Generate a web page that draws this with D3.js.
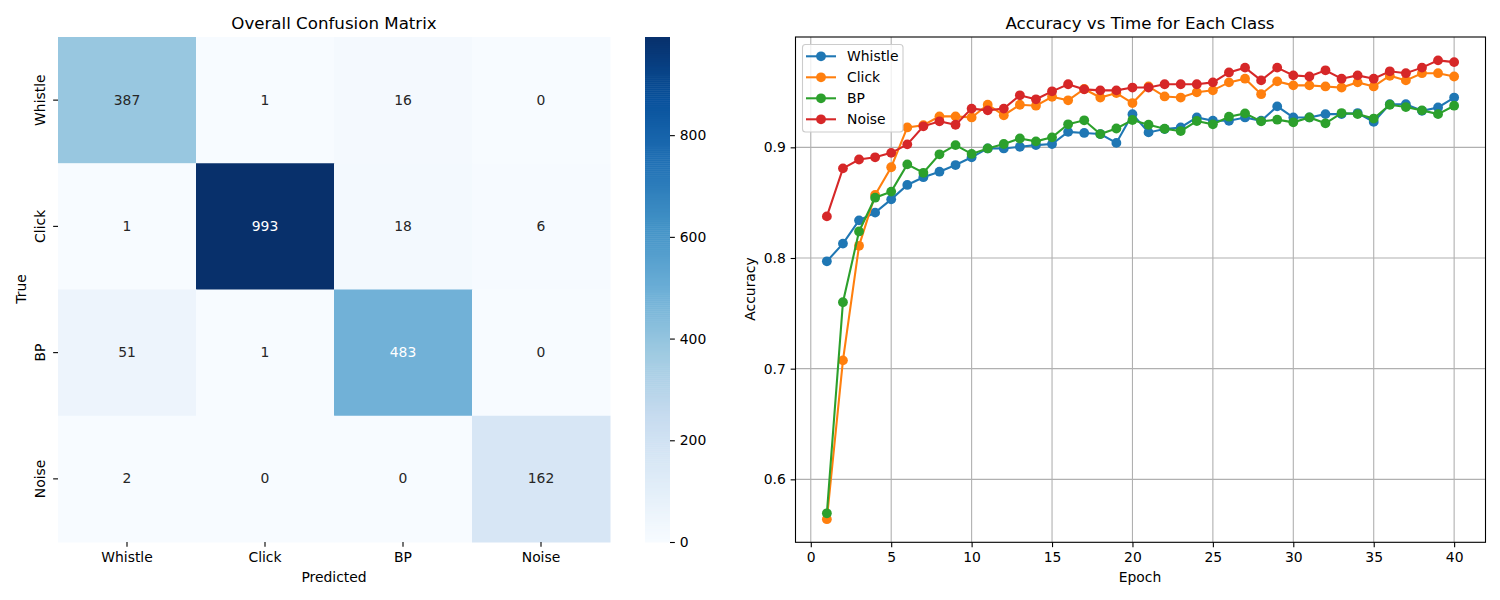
<!DOCTYPE html>
<html>
<head>
<meta charset="utf-8">
<script src="https://cdn.jsdelivr.net/npm/d3@7"></script>
<style>
  body { margin: 0; background: #fff; }
  text { font-family: "DejaVu Sans", sans-serif; fill: #000; }
  .axis text { font-size: 13.9px; }
  .axis path, .axis line { stroke: #000; stroke-width: 1.1px; }
</style>
</head>
<body>
<svg id="chart" width="1500" height="600"></svg>
<script>
const classes = ["Whistle", "Click", "BP", "Noise"];
const confusion = [
  [387, 1, 16, 0],
  [1, 993, 18, 6],
  [51, 1, 483, 0],
  [2, 0, 0, 162]
];
const colorbarTicks = [0, 200, 400, 600, 800];
const blues = ["#f7fbff", "#deebf7", "#c6dbef", "#9ecae1", "#6baed6", "#4292c6", "#2171b5", "#08519c", "#08306b"];

const epochs = [1,2,3,4,5,6,7,8,9,10,11,12,13,14,15,16,17,18,19,20,21,22,23,24,25,26,27,28,29,30,31,32,33,34,35,36,37,38,39,40];
const whistleAcc = [0.797,0.813,0.834,0.841,0.853,0.866,0.873,0.878,0.884,0.891,0.899,0.899,0.9005,0.902,0.903,0.914,0.913,0.912,0.904,0.930,0.9135,0.9165,0.918,0.927,0.924,0.924,0.927,0.924,0.937,0.927,0.927,0.930,0.930,0.931,0.923,0.939,0.939,0.933,0.936,0.945];
const clickAcc = [0.564,0.7075,0.811,0.857,0.882,0.918,0.920,0.928,0.928,0.927,0.9385,0.929,0.9385,0.9376,0.9457,0.9425,0.9527,0.945,0.949,0.940,0.955,0.946,0.945,0.9497,0.9515,0.9587,0.962,0.948,0.9596,0.956,0.956,0.955,0.954,0.9587,0.955,0.9647,0.9605,0.967,0.967,0.964];
const bpAcc = [0.5693,0.760,0.824,0.8545,0.860,0.8846,0.877,0.8937,0.902,0.894,0.899,0.903,0.908,0.9054,0.909,0.9208,0.9244,0.912,0.917,0.9247,0.9204,0.9168,0.9147,0.9238,0.9208,0.9277,0.9307,0.9235,0.925,0.9226,0.927,0.9217,0.931,0.930,0.926,0.9385,0.9364,0.9334,0.930,0.9376];
const noiseAcc = [0.8376,0.881,0.889,0.891,0.895,0.9027,0.919,0.9235,0.9204,0.935,0.9334,0.935,0.947,0.9434,0.9506,0.957,0.9524,0.9515,0.9515,0.954,0.954,0.957,0.957,0.957,0.9587,0.9677,0.972,0.9605,0.972,0.965,0.964,0.9696,0.962,0.965,0.962,0.9687,0.967,0.972,0.9786,0.977];
const lineColors = ["#1f77b4", "#ff7f0e", "#2ca02c", "#d62728"];
const accuracies = [whistleAcc, clickAcc, bpAcc, noiseAcc];
const xTicks = [0, 5, 10, 15, 20, 25, 30, 35, 40];
const yTicks = [0.6, 0.7, 0.8, 0.9];

const svg = d3.select("#chart");
const tickLen = 4.86;
const markerR = 4.9;

function label(x, y, str, size, rotate) {
  const t = svg.append("text")
    .attr("text-anchor", "middle")
    .attr("dominant-baseline", "central")
    .attr("font-size", size)
    .attr("transform", `translate(${x},${y})` + (rotate ? " rotate(-90)" : ""))
    .text(str);
  return t;
}

// Heatmap
const hm = { left: 58, right: 610, top: 37, bottom: 542 };
const cellX = d3.scaleBand().domain(classes).range([hm.left, hm.right]);
const cellY = d3.scaleBand().domain(classes).range([hm.top, hm.bottom]);
const maxCount = d3.max(confusion.flat());
const color = d3.scaleLinear()
  .domain(blues.map((_, i) => i / (blues.length - 1) * maxCount))
  .range(blues);

const cells = confusion.flatMap((row, i) => row.map((v, j) => ({ row: classes[i], col: classes[j], v })));

svg.append("g").selectAll("rect")
  .data(cells)
  .join("rect")
  .attr("x", d => cellX(d.col))
  .attr("y", d => cellY(d.row))
  .attr("width", cellX.bandwidth() + 0.5)
  .attr("height", cellY.bandwidth() + 0.5)
  .attr("fill", d => color(d.v));

svg.append("g").selectAll("text")
  .data(cells)
  .join("text")
  .attr("x", d => cellX(d.col) + cellX.bandwidth() / 2)
  .attr("y", d => cellY(d.row) + cellY.bandwidth() / 2 - 0.5)
  .attr("text-anchor", "middle")
  .attr("dominant-baseline", "central")
  .attr("font-size", 13.9)
  .style("fill", d => d.v > 450 ? "#fff" : "#262626")
  .text(d => d.v);

const hmX = svg.append("g").attr("class", "axis")
  .attr("transform", `translate(0,${hm.bottom})`)
  .call(d3.axisBottom(cellX).tickSize(tickLen).tickPadding(4.86));
hmX.select(".domain").remove();

const hmY = svg.append("g").attr("class", "axis")
  .attr("transform", `translate(${hm.left},0)`)
  .call(d3.axisLeft(cellY).tickSize(tickLen).tickPadding(4.86));
hmY.select(".domain").remove();
hmY.selectAll("text")
  .attr("x", 0).attr("dy", 0).attr("y", 0)
  .attr("text-anchor", "middle")
  .attr("dominant-baseline", "central")
  .attr("transform", "translate(-18.5,0) rotate(-90)");

label(334, 23, "Overall Confusion Matrix", 16.67);
label(334, 577, "Predicted", 13.9);
label(21, 289, "True", 13.9, true);

// Colorbar
const cb = { left: 645, right: 670, top: 37, bottom: 542 };
const cbY = d3.scaleLinear().domain([0, maxCount]).range([cb.bottom, cb.top]);
const steps = d3.range(0, maxCount, maxCount / 256);
svg.append("g").selectAll("rect")
  .data(steps)
  .join("rect")
  .attr("x", cb.left)
  .attr("width", cb.right - cb.left)
  .attr("y", d => cbY(d + maxCount / 256))
  .attr("height", d => cbY(d) - cbY(d + maxCount / 256) + 0.5)
  .attr("fill", d => color(d));
const cbAxis = svg.append("g").attr("class", "axis")
  .attr("transform", `translate(${cb.right},0)`)
  .call(d3.axisRight(cbY).tickValues(colorbarTicks).tickSize(tickLen).tickPadding(4.86).tickFormat(d3.format("d")));
cbAxis.select(".domain").remove();

// Accuracy lines
const ax = { left: 795.5, right: 1485.5, top: 37, bottom: 542.3 };
const x = d3.scaleLinear().domain([-0.95, 41.95]).range([ax.left, ax.right]);
const y = d3.scaleLinear().domain([0.5431, 0.9997]).range([ax.bottom, ax.top]);

svg.append("g").selectAll("line")
  .data(xTicks)
  .join("line")
  .attr("x1", d => x(d)).attr("x2", d => x(d))
  .attr("y1", ax.top).attr("y2", ax.bottom)
  .attr("stroke", "#b0b0b0").attr("stroke-width", 1.1);
svg.append("g").selectAll("line")
  .data(yTicks)
  .join("line")
  .attr("x1", ax.left).attr("x2", ax.right)
  .attr("y1", d => y(d)).attr("y2", d => y(d))
  .attr("stroke", "#b0b0b0").attr("stroke-width", 1.1);

const line = d3.line().x((d, i) => x(epochs[i])).y(d => y(d));
classes.forEach((name, k) => {
  const g = svg.append("g");
  g.append("path")
    .attr("d", line(accuracies[k]))
    .attr("fill", "none")
    .attr("stroke", lineColors[k])
    .attr("stroke-width", 2.08);
  g.selectAll("circle")
    .data(accuracies[k])
    .join("circle")
    .attr("cx", (d, i) => x(epochs[i]))
    .attr("cy", d => y(d))
    .attr("r", markerR)
    .attr("fill", lineColors[k]);
});

svg.append("rect")
  .attr("x", ax.left).attr("y", ax.top)
  .attr("width", ax.right - ax.left).attr("height", ax.bottom - ax.top)
  .attr("fill", "none").attr("stroke", "#000").attr("stroke-width", 1.1);

svg.append("g").attr("class", "axis")
  .attr("transform", `translate(0,${ax.bottom})`)
  .call(d3.axisBottom(x).tickValues(xTicks).tickSize(tickLen).tickPadding(4.86).tickFormat(d3.format("d")))
  .select(".domain").remove();
svg.append("g").attr("class", "axis")
  .attr("transform", `translate(${ax.left},0)`)
  .call(d3.axisLeft(y).tickValues(yTicks).tickSize(tickLen).tickPadding(4.86).tickFormat(d3.format(".1f")))
  .select(".domain").remove();

label(1140, 23, "Accuracy vs Time for Each Class", 16.67);
label(1140, 577, "Epoch", 13.9);
label(750, 289, "Accuracy", 13.9, true);

// Legend
const legend = svg.append("g").attr("transform", "translate(802,44)");
legend.append("rect")
  .attr("x", 0.5).attr("y", 0.5)
  .attr("width", 100.5).attr("height", 87.5)
  .attr("rx", 3).attr("ry", 3)
  .attr("fill", "#fff").attr("fill-opacity", 0.8)
  .attr("stroke", "#ccc").attr("stroke-width", 1.1);
const items = legend.selectAll("g.item")
  .data(classes)
  .join("g")
  .attr("class", "item")
  .attr("transform", (d, i) => `translate(0,${12.3 + i * 21})`);
items.append("line")
  .attr("x1", 4).attr("x2", 34)
  .attr("stroke", (d, i) => lineColors[i]).attr("stroke-width", 2.08);
items.append("circle")
  .attr("cx", 19).attr("r", markerR)
  .attr("fill", (d, i) => lineColors[i]);
items.append("text")
  .attr("x", 45)
  .attr("dominant-baseline", "central")
  .attr("font-size", 13.9)
  .text(d => d);
</script>
</body>
</html>
